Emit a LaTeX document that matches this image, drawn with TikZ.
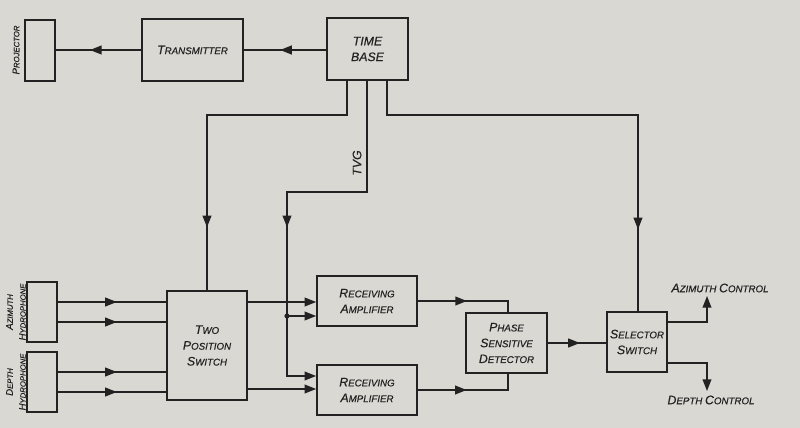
\documentclass[tikz,border=0pt]{standalone}
\usepackage{fontspec}
\setmainfont{Liberation Sans}[FakeBold=0.45]
\usepackage{tikz}
\usetikzlibrary{arrows.meta,decorations.markings}
\definecolor{paper}{RGB}{218,216,211}
\definecolor{ink}{RGB}{34,34,34}
\newcommand\inl[1]{{\fontsize{10.5}{10}\selectfont #1}}
\newcommand\sminl[1]{{\fontsize{8.2}{10}\selectfont #1}}
\newcommand\lettering{\fontsize{8.3}{13.5}\selectfont\itshape}
\newcommand\smlettering{\fontsize{6.6}{11}\selectfont\itshape}
\tikzset{
  blk/.style={draw=ink,line width=1.3pt,inner sep=0pt,align=center,text=ink,font=\lettering},
  wire/.style={draw=ink,line width=1.3pt},
  tip/.style={-{Triangle[length=10pt,width=7.5pt]}},
  midarr/.style={postaction={decorate},decoration={markings,mark=at position #1 with {\arrow{Triangle[length=10pt,width=7.5pt]}}}},
  lbl/.style={font=\lettering,text=ink,inner sep=0pt,align=center}
}
\begin{document}
\begin{tikzpicture}[x=0.03cm,y=-0.03cm]
      % Nền
      \fill[paper] (0,0) rectangle (800,428);
      \useasboundingbox (0,0) rectangle (800,428);
      % Các khối
      \node[blk,minimum width=30*0.03cm,minimum height=61*0.03cm] (proj) at (40,50.5) {};
      \node[blk,minimum width=101*0.03cm,minimum height=62*0.03cm] (trans) at (192.5,50) {\inl{T}RANSMITTER};
      \node[blk,minimum width=81*0.03cm,minimum height=62*0.03cm] (time) at (367.5,49) {\inl{TIME}\\\inl{BASE}};
      \node[blk,minimum width=30*0.03cm,minimum height=60*0.03cm] (azhyd) at (42,312) {};
      \node[blk,minimum width=30*0.03cm,minimum height=60*0.03cm] (dephyd) at (42,382) {};
      \node[blk,minimum width=80*0.03cm,minimum height=109*0.03cm] (tps) at (207,345.5) {\inl{T}WO\\\inl{P}OSITION\\\inl{S}WITCH};
      \node[blk,minimum width=100*0.03cm,minimum height=50*0.03cm] (ampa) at (367,301) {\inl{R}ECEIVING\\\inl{A}MPLIFIER};
      \node[blk,minimum width=100*0.03cm,minimum height=50*0.03cm] (ampb) at (367,390) {\inl{R}ECEIVING\\\inl{A}MPLIFIER};
      \node[blk,minimum width=81*0.03cm,minimum height=60*0.03cm] (psd) at (506.5,343) {\inl{P}HASE\\\inl{S}ENSITIVE\\\inl{D}ETECTOR};
      \node[blk,minimum width=60*0.03cm,minimum height=60*0.03cm] (sel) at (637,342) {\inl{S}ELECTOR\\\inl{S}WITCH};
      % Nhãn
      \node[lbl,rotate=90,font=\smlettering] (projlab) at (16,50) {\sminl{P}ROJECTOR};
      \node[lbl,rotate=90,font=\smlettering] (azlab) at (16,312) {\sminl{A}ZIMUTH\\\sminl{H}YDROPHONE};
      \node[lbl,rotate=90,font=\smlettering] (deplab) at (16,382) {\sminl{D}EPTH\\\sminl{H}YDROPHONE};
      \node[lbl,rotate=90] (tvg) at (357,163) {\inl{TVG}};
      \node[lbl] (azout) at (720,288) {\inl{A}ZIMUTH \inl{C}ONTROL};
      \node[lbl] (depout) at (711,400) {\inl{D}EPTH \inl{C}ONTROL};
      % Đường nối phía trên
      \draw[wire,midarr=0.56] (time.west |- 0,50) -- (trans.east |- 0,50);
      \draw[wire,midarr=0.6] (trans.west) -- (trans.west -| proj.east);
      \coordinate (tba) at (347,115);
      \coordinate (tbb) at (367,192);
      \coordinate (tbc) at (387,115);
      \draw[wire,midarr=0.82] (time.south -| tba) -- (tba) -| (tps.north);
      \draw[wire,tip,midarr=0.56] (time.south -| tbb) -- (tbb) -| (287,376) -- (287,376 -| ampb.west);
      \draw[wire,midarr=0.83] (time.south -| tbc) -- (tbc) -| (sel.north -| 638,0);
      % Thủy âm
      \foreach \y in {302,322}
        \draw[wire,midarr=0.545] (azhyd.east |- 0,\y) -- (tps.west |- 0,\y);
      \foreach \y in {372,392}
        \draw[wire,midarr=0.545] (dephyd.east |- 0,\y) -- (tps.west |- 0,\y);
      % Khuếch đại
      \coordinate (jct) at (287,316);
      \fill[ink] (jct) circle (2.2pt);
      \draw[wire,tip] (jct) -- (jct -| ampa.west);
      \draw[wire,tip] (tps.east |- 0,302) -- (ampa.west |- 0,302);
      \draw[wire,tip] (tps.east |- 0,389) -- (ampb.west |- 0,389);
      \draw[wire,midarr=0.485] (ampa.east) -| (psd.north -| 508,0);
      \draw[wire,midarr=0.46] (ampb.east) -| (psd.south -| 508,0);
      \draw[wire,midarr=0.55] (psd.east) -- (psd.east -| sel.west);
      % Đầu ra
      \draw[wire,tip] (sel.east |- 0,322) -| (707,296);
      \draw[wire,tip] (sel.east |- 0,363) -| (707,391);
\end{tikzpicture}
\end{document}
